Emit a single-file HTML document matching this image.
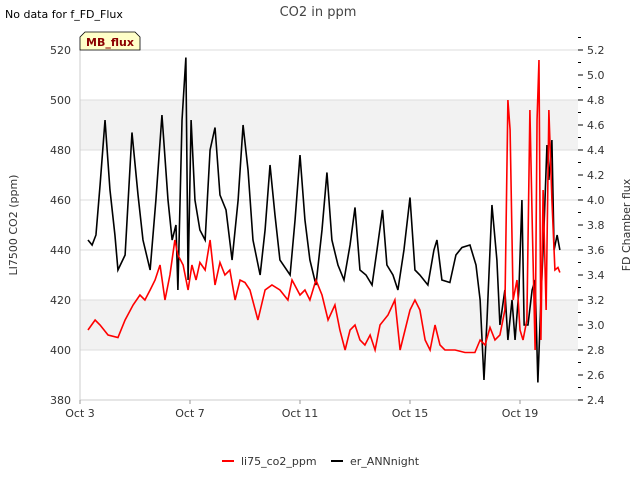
<!DOCTYPE html>
<html><head><meta charset="utf-8"><style>
body{margin:0;background:#fff;}
svg{display:block;font-family:"DejaVu Sans","Liberation Sans",sans-serif;}
</style></head><body>
<svg id="chart" width="640" height="480" viewBox="0 0 640 480">
<text x="5" y="18" font-size="11" fill="#000">No data for f_FD_Flux</text>
<text x="318" y="16" font-size="13" fill="#444" text-anchor="middle">CO2 in ppm</text>
<g id="bands"></g>
<g id="axes"></g>
<g id="series"></g>
<path d="M80,50 L80,37 L85,32 L135,32 L140,37 L140,50 Z" fill="#ffffc8" stroke="#000" stroke-width="0.8"/>
<text x="110" y="46" font-size="11" font-weight="bold" fill="#8b0000" text-anchor="middle">MB_flux</text>
<text transform="translate(17,225) rotate(-90)" font-size="11" text-anchor="middle" fill="#333">LI7500 CO2 (ppm)</text>
<text transform="translate(630,225) rotate(-90)" font-size="11" text-anchor="middle" fill="#333">FD Chamber flux</text>
<g>
<line x1="222" y1="461" x2="234" y2="461" stroke="#f00" stroke-width="2"/>
<text x="241" y="465" font-size="11" fill="#333">li75_co2_ppm</text>
<line x1="331" y1="461" x2="343" y2="461" stroke="#000" stroke-width="2"/>
<text x="350" y="465" font-size="11" fill="#333">er_ANNnight</text>
</g>
</svg>
<script>
const xTickLabels=["Oct 3","Oct 7","Oct 11","Oct 15","Oct 19"];
const xTickDays=[0,4,8,12,16];
const yTicks=[380,400,420,440,460,480,500,520];
const y2Ticks=[2.4,2.6,2.8,3.0,3.2,3.4,3.6,3.8,4.0,4.2,4.4,4.6,4.8,5.0,5.2];
const redDays=[0.29,0.55,0.73,1.02,1.38,1.64,1.93,2.18,2.36,2.55,2.73,2.91,3.09,3.27,3.45,3.56,3.75,3.93,4.07,4.22,4.36,4.55,4.73,4.91,5.09,5.27,5.45,5.64,5.82,6.0,6.18,6.47,6.73,6.98,7.27,7.56,7.71,8.0,8.18,8.36,8.58,8.8,9.02,9.27,9.45,9.64,9.82,10.0,10.18,10.36,10.55,10.73,10.91,11.2,11.45,11.64,11.82,12.0,12.18,12.36,12.55,12.73,12.91,13.09,13.27,13.64,14.0,14.36,14.55,14.73,14.91,15.09,15.27,15.45,15.56,15.64,15.75,15.89,16.0,16.11,16.25,16.36,16.45,16.55,16.62,16.69,16.76,16.84,16.95,17.05,17.16,17.27,17.38,17.45];
const redValues=[408,412,410,406,405,412,418,422,420,424,428,434,420,430,444,438,434,424,434,428,435,432,444,426,435,430,432,420,428,427,424,412,424,426,424,420,428,422,424,420,428,422,412,418,408,400,408,410,404,402,406,400,410,414,420,400,408,416,420,416,404,400,410,402,400,400,399,399,404,402,409,404,406,416,500,488,420,428,408,404,412,496,448,400,492,516,404,464,416,496,460,432,433,431];
const blackDays=[0.29,0.44,0.58,0.73,0.91,1.09,1.27,1.38,1.64,1.89,2.11,2.29,2.55,2.76,2.98,3.2,3.35,3.49,3.56,3.71,3.85,3.93,4.04,4.18,4.36,4.55,4.73,4.91,5.09,5.31,5.53,5.75,5.93,6.11,6.29,6.55,6.73,6.91,7.09,7.27,7.64,7.82,8.0,8.18,8.36,8.58,8.8,8.98,9.16,9.38,9.6,9.82,10.0,10.18,10.4,10.62,10.8,11.0,11.16,11.38,11.56,11.78,12.0,12.18,12.36,12.65,12.87,12.98,13.16,13.45,13.67,13.89,14.18,14.4,14.55,14.69,14.8,14.98,15.16,15.27,15.45,15.56,15.71,15.82,15.96,16.07,16.15,16.29,16.44,16.55,16.65,16.76,16.87,16.98,17.05,17.16,17.24,17.35,17.45];
const blackValues=[3.68,3.64,3.72,4.12,4.64,4.08,3.72,3.44,3.56,4.54,4.04,3.68,3.44,4.0,4.68,4.0,3.68,3.8,3.28,4.64,5.14,3.36,4.64,4.0,3.76,3.68,4.4,4.58,4.04,3.92,3.52,4.0,4.6,4.24,3.68,3.4,3.76,4.28,3.88,3.52,3.4,3.84,4.36,3.84,3.52,3.32,3.76,4.22,3.68,3.48,3.36,3.64,3.94,3.44,3.4,3.32,3.6,3.92,3.48,3.4,3.28,3.6,4.02,3.44,3.4,3.32,3.6,3.68,3.36,3.34,3.56,3.62,3.64,3.48,3.2,2.56,3.04,3.96,3.52,3.0,3.28,2.88,3.2,2.88,3.28,4.0,3.0,3.0,3.28,3.36,2.54,3.2,3.76,4.44,4.16,4.48,3.6,3.72,3.6];

const X0=80,X1=578,YT=50,YB=400;
const xs=d=>X0+d*27.5;
const ys=v=>YB-(v-380)*(YB-YT)/140;
const ys2=v=>YB-(v-2.4)*(YB-YT)/2.8;
const NS="http://www.w3.org/2000/svg";
function mk(tag,attrs,parent){const e=document.createElementNS(NS,tag);for(const k in attrs)e.setAttribute(k,attrs[k]);parent.appendChild(e);return e;}
const bands=document.getElementById('bands'),axes=document.getElementById('axes'),series=document.getElementById('series');
[[400,420],[480,500]].forEach(b=>{
 const r=mk('rect',{x:X0,y:ys(b[1]),width:X1-X0,height:ys(b[0])-ys(b[1]),fill:'#f2f2f2'},bands);
 
 
});
yTicks.forEach(v=>{
 const l=mk('line',{x1:X0,x2:X1,y1:ys(v),y2:ys(v),stroke:'#ddd','stroke-width':1},bands);
 
 
 const t=mk('text',{x:X0-9,y:ys(v)+4,'font-size':11,fill:'#333','text-anchor':'end'},axes);
 t.textContent=v;
 
 
});
mk('line',{x1:X0,x2:X0,y1:YT,y2:YB,stroke:'#ccc'},axes);
mk('line',{x1:X0,x2:X1,y1:YB,y2:YB,stroke:'#ccc'},axes);
xTickDays.forEach((d,i)=>{
 mk('line',{x1:xs(d),x2:xs(d),y1:YB,y2:YB+4,stroke:'#999'},axes);
 const t=mk('text',{x:xs(d),y:YB+17,'font-size':11,fill:'#333','text-anchor':'middle'},axes);
 t.textContent=xTickLabels[i];
 
 
});
y2Ticks.forEach(v=>{
 mk('line',{x1:X1,x2:X1+5,y1:ys2(v),y2:ys2(v),stroke:'#000'},axes);
 mk('line',{x1:X1,x2:X1+3,y1:ys2(v+0.1),y2:ys2(v+0.1),stroke:'#000'},axes);
 const t=mk('text',{x:X1+9,y:ys2(v)+4,'font-size':11,fill:'#333'},axes);
 t.textContent=v.toFixed(1);
 
 
});
const pb=mk('polyline',{points:blackDays.map((d,i)=>xs(d)+','+ys2(blackValues[i])).join(' '),fill:'none',stroke:'#000','stroke-width':1.6},series);


const pr=mk('polyline',{points:redDays.map((d,i)=>xs(d)+','+ys(redValues[i])).join(' '),fill:'none',stroke:'#f00','stroke-width':1.6},series);


</script>
</body></html>
